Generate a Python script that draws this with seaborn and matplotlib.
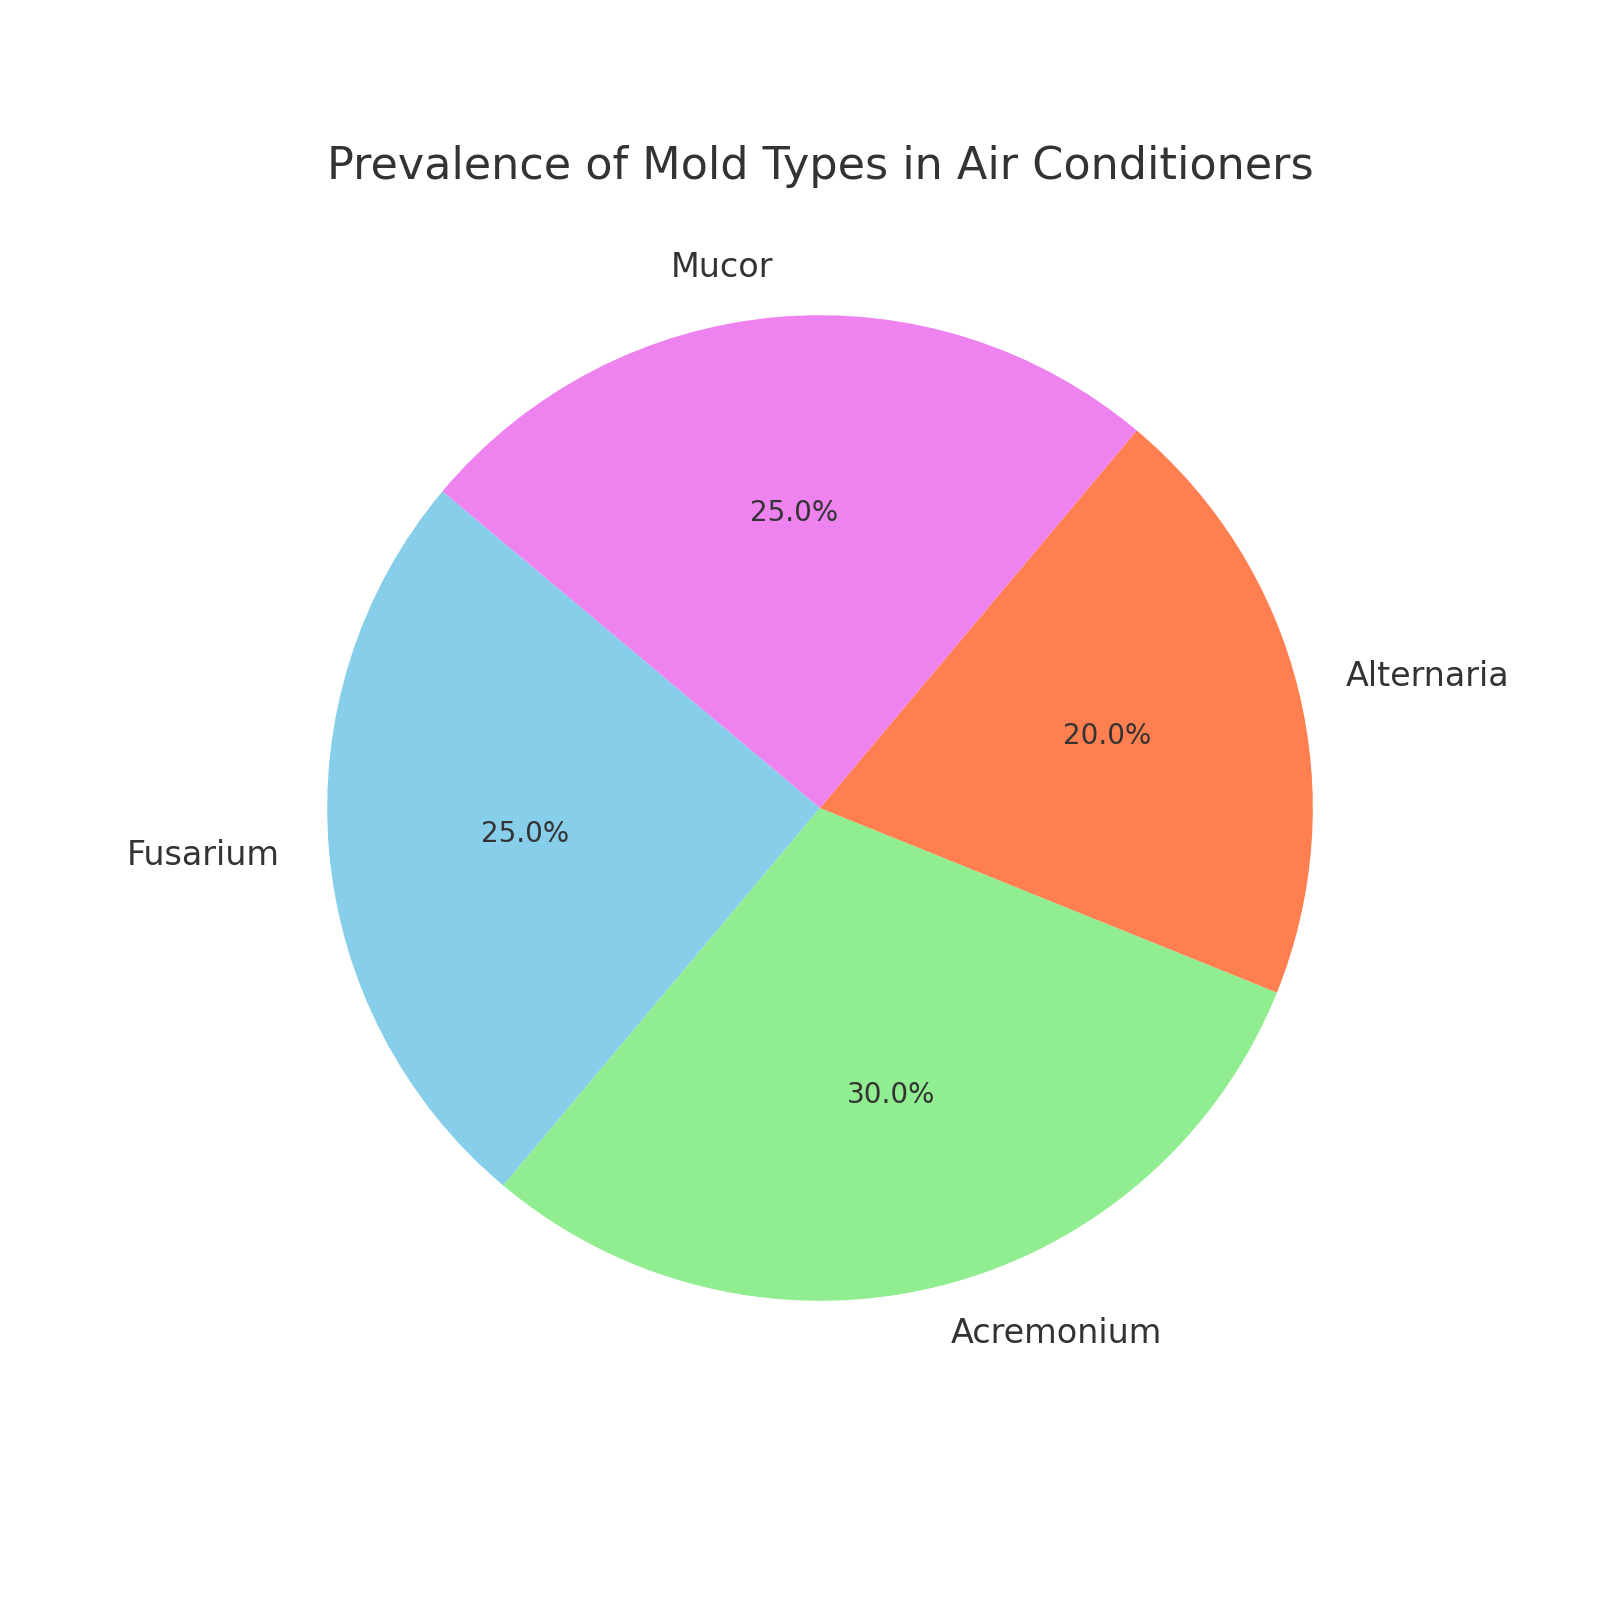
import matplotlib
matplotlib.use("Agg")
import matplotlib.pyplot as plt
import seaborn as sns

sns.set_theme(style="white")
plt.rcParams['font.family'] = ['DejaVu Sans']

# mold types and their share
mold_types = ['Fusarium', 'Acremonium', 'Alternaria', 'Mucor']
prevalence = [25, 30, 20, 25]
colors = ['skyblue', 'lightgreen', 'coral', 'violet']

fig, ax = plt.subplots(figsize=(10, 10), dpi=160)
wedges, labels, pcts = ax.pie(prevalence, labels=mold_types, colors=colors,
                              autopct='%1.1f%%', startangle=140,
                              wedgeprops={'linewidth': 0, 'edgecolor': 'none'},
                              textprops={'color': '#333333', 'fontsize': 15})
for t in pcts:
    t.set_fontsize(12.5)
ax.set_title('Prevalence of Mold Types in Air Conditioners', fontsize=20, color='#333333')

plt.savefig('out.png', dpi=160)
